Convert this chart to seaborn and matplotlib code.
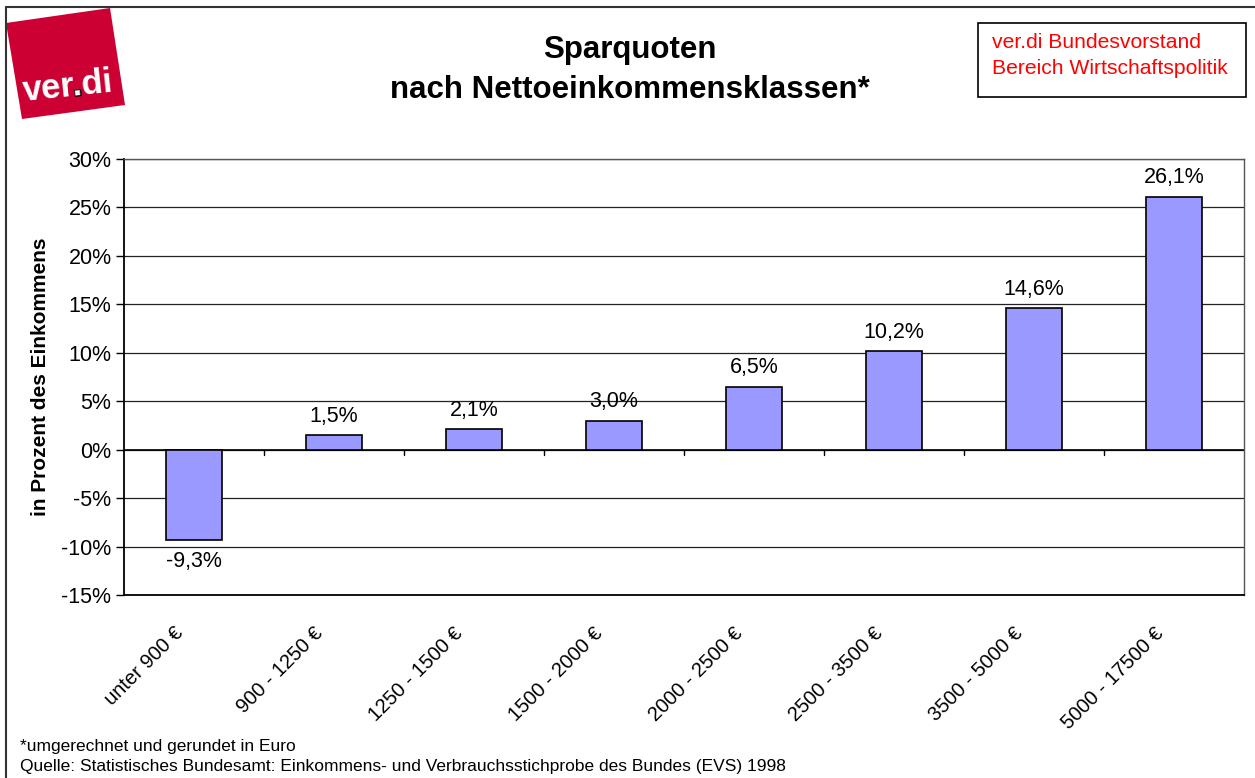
import numpy as np
import pandas as pd
import matplotlib
matplotlib.use("Agg")
import matplotlib.pyplot as plt
import matplotlib.transforms as mtransforms
from matplotlib.patches import Polygon, Rectangle
from matplotlib.lines import Line2D
import seaborn as sns

# --- data ---
classes = ["unter 900 €", "900 - 1250 €", "1250 - 1500 €", "1500 - 2000 €",
           "2000 - 2500 €", "2500 - 3500 €", "3500 - 5000 €", "5000 - 17500 €"]
sparquote = [-9.3, 1.5, 2.1, 3.0, 6.5, 10.2, 14.6, 26.1]
yticks = [-15, -10, -5, 0, 5, 10, 15, 20, 25, 30]

BAR = "#9999FF"
W, H = 1255, 778

sns.set_theme(style="white")
plt.rcParams["font.family"] = ["Liberation Sans", "DejaVu Sans"]
plt.rcParams["text.color"] = "black"
plt.rcParams["axes.labelcolor"] = "black"
plt.rcParams["xtick.color"] = "black"
plt.rcParams["ytick.color"] = "black"

df = pd.DataFrame({"klasse": classes, "quote": sparquote})

fig = plt.figure(figsize=(W / 100, H / 100), dpi=100)
fig.patch.set_facecolor("white")


def fx(px):
    return px / W


def fy(py):
    return 1 - py / H


# plot area in pixels: x 124..1244, y 159..595
ax = fig.add_axes([fx(124), fy(595), fx(1244) - fx(124), fy(159) - fy(595)])
ax.set_axisbelow(True)
for y in yticks:
    ax.axhline(y, color="#222222", lw=0.9, zorder=0)
sns.barplot(data=df, x="klasse", y="quote", color=BAR, saturation=1,
            edgecolor="black", linewidth=1.2, width=0.4, ax=ax, zorder=2)
ax.axhline(0, color="black", lw=1.2, zorder=1)
# small category separator ticks below the zero line
n = len(classes)
for k in range(1, n):
    ax.plot([k - 0.5, k - 0.5], [0, -0.6], color="black", lw=1, zorder=1,
            clip_on=False)

ax.set_xlim(-0.5, n - 0.5)
ax.set_ylim(-15, 30)
ax.set_yticks(yticks)
ax.set_yticklabels([f"{v}%" for v in yticks], fontsize=15.5)
ax.tick_params(axis="y", direction="out", length=6, width=1, color="black", pad=3,
               left=True)
ax.tick_params(axis="x", length=0, pad=14)
ax.set_xticks(range(n))
ax.set_xticklabels(classes, rotation=45, ha="right", rotation_mode="anchor",
                   va="center", fontsize=14.5)
shift = mtransforms.ScaledTranslation(-14 / 100, -16 / 100, fig.dpi_scale_trans)
for lab in ax.get_xticklabels():
    lab.set_transform(lab.get_transform() + shift)
ax.set_xlabel("")
ax.set_ylabel("in Prozent des Einkommens", fontsize=15, fontweight="bold",
              labelpad=8)
for s in ["left", "bottom"]:
    ax.spines[s].set_color("black")
    ax.spines[s].set_linewidth(1.3)
for s in ["top", "right"]:
    ax.spines[s].set_color("#555555")
    ax.spines[s].set_linewidth(1)

# value labels
for i, v in enumerate(sparquote):
    txt = f"{v:.1f}%".replace(".", ",")
    if v >= 0:
        ax.annotate(txt, (i, v), xytext=(0, 6), textcoords="offset points",
                    ha="center", va="bottom", fontsize=15.5)
    else:
        ax.annotate(txt, (i, v), xytext=(0, -8), textcoords="offset points",
                    ha="center", va="top", fontsize=15.5)

# slide frame
fig.add_artist(Line2D([fx(6), fx(1255)], [fy(7), fy(7)], color="#333333", lw=1.5))
fig.add_artist(Line2D([fx(6), fx(6)], [fy(7), fy(778)], color="#333333", lw=1.5))

# title
fig.text(fx(630), fy(50), "Sparquoten", ha="center", va="center",
         fontsize=22.5, fontweight="bold")
fig.text(fx(630), fy(90), "nach Nettoeinkommensklassen*", ha="center",
         va="center", fontsize=22.5, fontweight="bold")

# red info box
fig.add_artist(Rectangle((fx(978), fy(97)), fx(1246) - fx(978), fy(23) - fy(97),
                         fill=False, edgecolor="black", lw=1.2))
fig.text(fx(992), fy(43), "ver.di Bundesvorstand", color="#FF0000",
         fontsize=15.2, ha="left", va="center")
fig.text(fx(992), fy(69), "Bereich Wirtschaftspolitik", color="#FF0000",
         fontsize=15.2, ha="left", va="center")

# logo: rotated red square with white lettering and a black dot
corners = [(6, 23), (110, 8), (125, 105), (22, 119)]
fig.add_artist(Polygon([(fx(x), fy(y)) for x, y in corners], closed=True,
                       facecolor="#CC0033", edgecolor="none"))
fig.text(fx(68), fy(87), "ver.di", color="white", fontsize=25,
         fontweight="bold", ha="center", va="center", rotation=6)
dot = [(74, 90), (81, 89), (82, 96), (75, 97)]
fig.add_artist(Polygon([(fx(x), fy(y)) for x, y in dot], closed=True,
                       facecolor="black", edgecolor="none"))

# footnotes
fig.text(fx(20), fy(746), "*umgerechnet und gerundet in Euro", fontsize=12.5,
         ha="left", va="center")
fig.text(fx(20), fy(767),
         "Quelle: Statistisches Bundesamt: Einkommens- und Verbrauchsstichprobe "
         "des Bundes (EVS) 1998", fontsize=12.5, ha="left", va="center")

fig.savefig("out.png", dpi=100, facecolor="white")
